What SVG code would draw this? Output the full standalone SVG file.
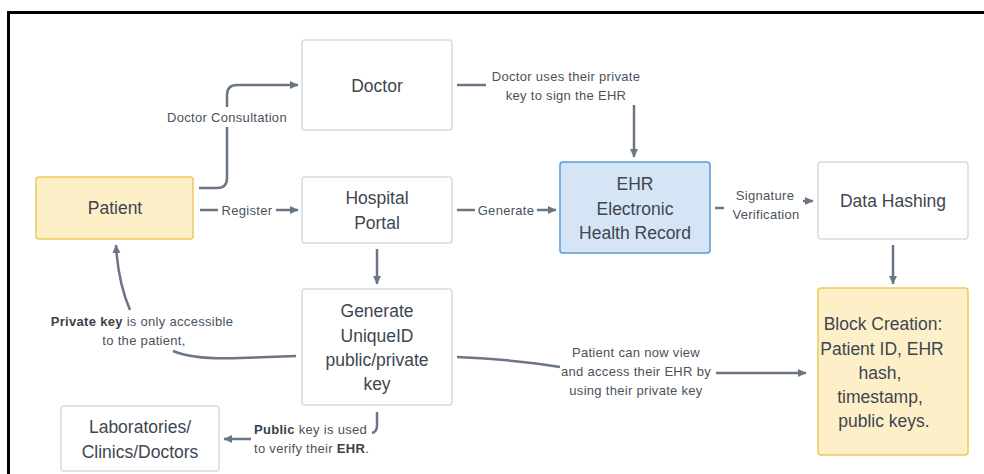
<svg xmlns="http://www.w3.org/2000/svg" width="984" height="474" viewBox="0 0 984 474">
<defs>
<marker id="arr" markerWidth="9" markerHeight="9" refX="8" refY="4.5" orient="auto" markerUnits="userSpaceOnUse">
<path d="M0,0.5 L8.5,4.5 L0,8.5 Z" fill="#6b7684"/>
</marker>
</defs>
<style>
.node rect{fill:#ffffff;stroke:#d5dbe1;stroke-width:1.5}
.node.yellow rect{fill:#fdf0c9;stroke:#f0c75a}
.node.blue rect{fill:#d5e5f5;stroke:#5a9ad6}
.node text{font-family:"Liberation Sans",Arial,sans-serif;font-size:17.5px;fill:#3e4650;text-anchor:middle}
.lbl{font-family:"Liberation Sans",Arial,sans-serif;font-size:13px;fill:#4a525c;letter-spacing:0.3px}
.mid{text-anchor:middle}
.b{font-weight:bold;fill:#3a414a}
#connectors path{fill:none;stroke:#6b7684;stroke-width:2.5}
</style>
<rect x="0" y="0" width="984" height="474" fill="#ffffff"/>
<path d="M8.5,474 V12.5 H984" fill="none" stroke="#000000" stroke-width="3"/>

<g id="connectors">
<path d="M199,188 H217 Q227,188 227,178 V127"/>
<path d="M227,107 V95 Q227,85 237,85 H298" marker-end="url(#arr)"/>
<path d="M200,210 H218"/>
<path d="M276,210 H298" marker-end="url(#arr)"/>
<path d="M457,210 H475"/>
<path d="M537,210 H556" marker-end="url(#arr)"/>
<path d="M457,85 H486"/>
<path d="M634,105 V157" marker-end="url(#arr)"/>
<path d="M715,208 H724"/>
<path d="M803,201 H813" marker-end="url(#arr)"/>
<path d="M893,245 V284" marker-end="url(#arr)"/>
<path d="M377,249 V284" marker-end="url(#arr)"/>
<path d="M296,356 L240,358 Q195,360 173,351"/>
<path d="M130,310 Q118,282 116,245" marker-end="url(#arr)"/>
<path d="M457,357 Q520,360 560,367"/>
<path d="M716,373 H806" marker-end="url(#arr)"/>
<path d="M377,412 V425 Q377,432 372,433"/>
<path d="M251,439 H224" marker-end="url(#arr)"/>
<text class="lbl mid" x="227" y="122">Doctor Consultation</text>
<text class="lbl mid" x="247" y="215">Register</text>
<text class="lbl mid" x="506" y="215">Generate</text>
<text class="lbl mid" x="566" y="81">Doctor uses their private</text>
<text class="lbl mid" x="566" y="100">key to sign the EHR</text>
<text class="lbl mid" x="765" y="200">Signature</text>
<text class="lbl mid" x="766" y="219">Verification</text>
<text class="lbl mid" x="142" y="326"><tspan class="b">Private key</tspan> is only accessible</text>
<text class="lbl mid" x="144" y="345">to the patient,</text>
<text class="lbl mid" x="636" y="357">Patient can now view</text>
<text class="lbl mid" x="636" y="376">and access their EHR by</text>
<text class="lbl mid" x="636" y="395">using their private key</text>
<text class="lbl" x="254" y="434"><tspan class="b">Public</tspan> key is used</text>
<text class="lbl" x="254" y="453">to verify their <tspan class="b">EHR</tspan>.</text>
</g>

<g id="doctor" class="node">
<rect x="302" y="40" width="150" height="90" rx="3"/>
<text x="377" y="92">Doctor</text>
</g>
<g id="patient" class="node yellow">
<rect x="36" y="177" width="157" height="62" rx="3"/>
<text x="115" y="214">Patient</text>
</g>
<g id="hospital" class="node">
<rect x="302" y="177" width="150" height="66" rx="3"/>
<text x="377" y="204">Hospital</text>
<text x="377" y="229">Portal</text>
</g>
<g id="ehr" class="node blue">
<rect x="560" y="162" width="150" height="91" rx="3"/>
<text x="635" y="190">EHR</text>
<text x="635" y="215">Electronic</text>
<text x="635" y="239">Health Record</text>
</g>
<g id="hashing" class="node">
<rect x="818" y="162" width="150" height="77" rx="3"/>
<text x="893" y="207">Data Hashing</text>
</g>
<g id="generate" class="node">
<rect x="302" y="289" width="150" height="116" rx="3"/>
<text x="377" y="317">Generate</text>
<text x="377" y="342">UniqueID</text>
<text x="377" y="366">public/private</text>
<text x="377" y="390">key</text>
</g>
<g id="block" class="node yellow">
<rect x="818" y="288" width="150" height="167" rx="3"/>
<text x="883" y="330">Block Creation:</text>
<text x="882" y="355">Patient ID, EHR</text>
<text x="880" y="379">hash,</text>
<text x="880" y="403">timestamp,</text>
<text x="884" y="427">public keys.</text>
</g>
<g id="labs" class="node">
<rect x="61" y="406" width="158" height="65" rx="3"/>
<text x="140" y="433">Laboratories/</text>
<text x="140" y="458">Clinics/Doctors</text>
</g>
</svg>
